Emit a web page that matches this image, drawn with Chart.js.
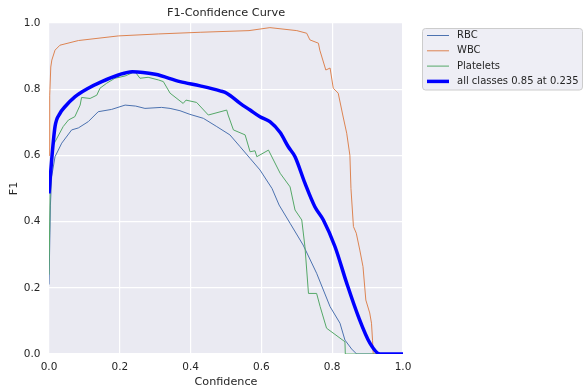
<!DOCTYPE html>
<html>
<head>
<meta charset="utf-8">
<script src="https://cdn.jsdelivr.net/npm/chart.js@4.4.1/dist/chart.umd.min.js"></script>
<style>
  html, body { margin: 0; padding: 0; background: #fff; }
  #wrap { width: 584px; height: 389px; }
</style>
</head>
<body>
<div id="wrap"><canvas id="f1Chart" width="584" height="389"></canvas></div>
<script>
// ---- data (confidence -> F1) ----
const rbcConf = [0, 0.004, 0.0075, 0.017, 0.036, 0.064, 0.083, 0.111, 0.139, 0.177, 0.215, 0.245, 0.271, 0.318, 0.342, 0.37, 0.398, 0.436, 0.474, 0.511, 0.54, 0.568, 0.596, 0.63, 0.65, 0.681, 0.718, 0.756, 0.794, 0.822, 0.836, 0.855, 0.869, 1.0];
const rbcF1   = [0.21, 0.45, 0.536, 0.596, 0.637, 0.677, 0.683, 0.702, 0.732, 0.739, 0.752, 0.749, 0.742, 0.745, 0.742, 0.735, 0.724, 0.712, 0.687, 0.662, 0.626, 0.591, 0.556, 0.50, 0.45, 0.395, 0.329, 0.244, 0.143, 0.093, 0.042, 0.015, 0, 0];

const wbcConf = [0, 0.002, 0.005, 0.008, 0.017, 0.031, 0.083, 0.196, 0.31, 0.427, 0.565, 0.624, 0.70, 0.728, 0.737, 0.761, 0.765, 0.782, 0.794, 0.803, 0.817, 0.831, 0.841, 0.85, 0.853, 0.86, 0.868, 0.878, 0.887, 0.895, 0.906, 0.911, 0.914, 0.916, 1.0];
const wbcF1   = [0.60, 0.78, 0.867, 0.888, 0.918, 0.933, 0.947, 0.961, 0.967, 0.972, 0.977, 0.986, 0.977, 0.969, 0.949, 0.939, 0.918, 0.858, 0.864, 0.803, 0.788, 0.716, 0.667, 0.60, 0.50, 0.385, 0.365, 0.314, 0.264, 0.163, 0.124, 0.093, 0.04, 0, 0];

const pltConf = [0, 0.004, 0.012, 0.017, 0.04, 0.055, 0.073, 0.088, 0.092, 0.116, 0.135, 0.144, 0.163, 0.186, 0.215, 0.243, 0.257, 0.28, 0.309, 0.323, 0.342, 0.379, 0.387, 0.417, 0.45, 0.502, 0.506, 0.521, 0.554, 0.568, 0.582, 0.587, 0.62, 0.653, 0.681, 0.695, 0.714, 0.723, 0.733, 0.756, 0.766, 0.784, 0.836, 0.837, 1.0];
const pltF1   = [0.24, 0.55, 0.63, 0.641, 0.687, 0.707, 0.717, 0.752, 0.775, 0.772, 0.782, 0.803, 0.818, 0.833, 0.84, 0.853, 0.833, 0.836, 0.828, 0.823, 0.788, 0.757, 0.767, 0.76, 0.722, 0.737, 0.722, 0.677, 0.662, 0.611, 0.614, 0.596, 0.616, 0.546, 0.505, 0.435, 0.405, 0.324, 0.183, 0.183, 0.143, 0.078, 0.037, 0, 0];

const allConf = [0, 0.0075, 0.017, 0.031, 0.045, 0.073, 0.111, 0.149, 0.196, 0.235, 0.3, 0.37, 0.427, 0.483, 0.502, 0.54, 0.568, 0.596, 0.624, 0.653, 0.676, 0.695, 0.723, 0.751, 0.775, 0.808, 0.841, 0.874, 0.907, 0.935, 1.0];
const allF1   = [0.485, 0.586, 0.687, 0.727, 0.747, 0.777, 0.803, 0.823, 0.843, 0.853, 0.845, 0.823, 0.81, 0.795, 0.788, 0.757, 0.737, 0.717, 0.702, 0.669, 0.626, 0.596, 0.516, 0.445, 0.405, 0.324, 0.214, 0.113, 0.032, 0, 0];

const seriesLabels = ["RBC", "WBC", "Platelets", "all classes 0.85 at 0.235"];
const seriesColors = ["#4C72B0", "#DD8452", "#55A868", "#0000FF"];
const axisTicks = [0, 0.2, 0.4, 0.6, 0.8, 1.0];

const toPoints = (xs, ys) => xs.map((x, i) => ({ x: x, y: ys[i] }));

const FONT = "'DejaVu Sans', sans-serif";
const TEXT = "#262626";

// grey plot background (seaborn darkgrid look)
const plotBg = {
  id: "plotBg",
  beforeDraw(chart) {
    const { ctx, chartArea: a } = chart;
    ctx.save();
    ctx.fillStyle = "#EAEAF2";
    ctx.fillRect(a.left, a.top, a.right - a.left, a.bottom - a.top);
    ctx.restore();
  }
};

// title centred over the plot + legend box outside on the right
const titleAndLegend = {
  id: "titleAndLegend",
  afterDraw(chart) {
    const { ctx, chartArea: a } = chart;
    ctx.save();
    ctx.fillStyle = TEXT;
    ctx.font = "11.3px " + FONT;
    ctx.textAlign = "center";
    ctx.textBaseline = "middle";
    ctx.fillText("F1-Confidence Curve", (a.left + a.right) / 2, 13);

    // legend frame
    const bx = 422.5, by = 28.5, bw = 160, bh = 61.5;
    ctx.beginPath();
    ctx.roundRect(bx, by, bw, bh, 3);
    ctx.fillStyle = "rgba(234,234,242,0.8)";
    ctx.fill();
    ctx.strokeStyle = "#CCCCCC";
    ctx.lineWidth = 1;
    ctx.stroke();

    ctx.font = "10px " + FONT;
    ctx.textAlign = "left";
    chart.data.datasets.forEach((ds, i) => {
      const y = 35.5 + i * 15.3;
      ctx.beginPath();
      ctx.moveTo(427, y);
      ctx.lineTo(449, y);
      ctx.strokeStyle = ds.borderColor;
      ctx.lineWidth = ds.borderWidth;
      ctx.stroke();
      ctx.fillStyle = TEXT;
      ctx.fillText(ds.label, 457, y);
    });
    ctx.restore();
  }
};

const thin = (i, xs, ys, order) => ({
  label: seriesLabels[i],
  data: toPoints(xs, ys),
  borderColor: seriesColors[i],
  borderWidth: 1,
  pointRadius: 0,
  tension: 0,
  clip: 0,
  order: order
});

new Chart(document.getElementById("f1Chart"), {
  type: "line",
  data: {
    datasets: [
      thin(0, rbcConf, rbcF1, 3),
      thin(1, wbcConf, wbcF1, 2),
      thin(2, pltConf, pltF1, 1),
      {
        label: seriesLabels[3],
        data: toPoints(allConf, allF1),
        borderColor: seriesColors[3],
        borderWidth: 3.5,
        pointRadius: 0,
        cubicInterpolationMode: "monotone",
        clip: 0,
        order: 0
      }
    ]
  },
  options: {
    responsive: false,
    animation: false,
    events: [],
    layout: { padding: { left: 0, top: 23, right: 181, bottom: 0 } },
    plugins: { legend: { display: false }, tooltip: { enabled: false }, title: { display: false } },
    scales: {
      x: {
        type: "linear",
        min: 0, max: 1,
        afterFit: s => { s.height = 35; },
        afterBuildTicks: s => { s.ticks = axisTicks.map(v => ({ value: v })); },
        grid: { color: "#FFFFFF", lineWidth: 1.2, drawTicks: false },
        border: { display: false },
        ticks: { padding: 7, color: TEXT, font: { family: FONT, size: 10.5 }, maxRotation: 0,
                 callback: v => v.toFixed(1) },
        title: { display: true, text: "Confidence", color: TEXT, font: { family: FONT, size: 11.2 },
                 padding: { top: 0, bottom: 0.6 } }
      },
      y: {
        min: 0, max: 1,
        afterFit: s => { s.width = 49; },
        afterBuildTicks: s => { s.ticks = axisTicks.map(v => ({ value: v })); },
        grid: { color: "#FFFFFF", lineWidth: 1.2, drawTicks: false },
        border: { display: false },
        ticks: { padding: 8.5, color: TEXT, font: { family: FONT, size: 10.5 },
                 callback: v => v.toFixed(1) },
        title: { display: true, text: "F1", color: TEXT, font: { family: FONT, size: 11.2 },
                 padding: { top: 7, bottom: 0 } }
      }
    }
  },
  plugins: [plotBg, titleAndLegend]
});
</script>
</body>
</html>
